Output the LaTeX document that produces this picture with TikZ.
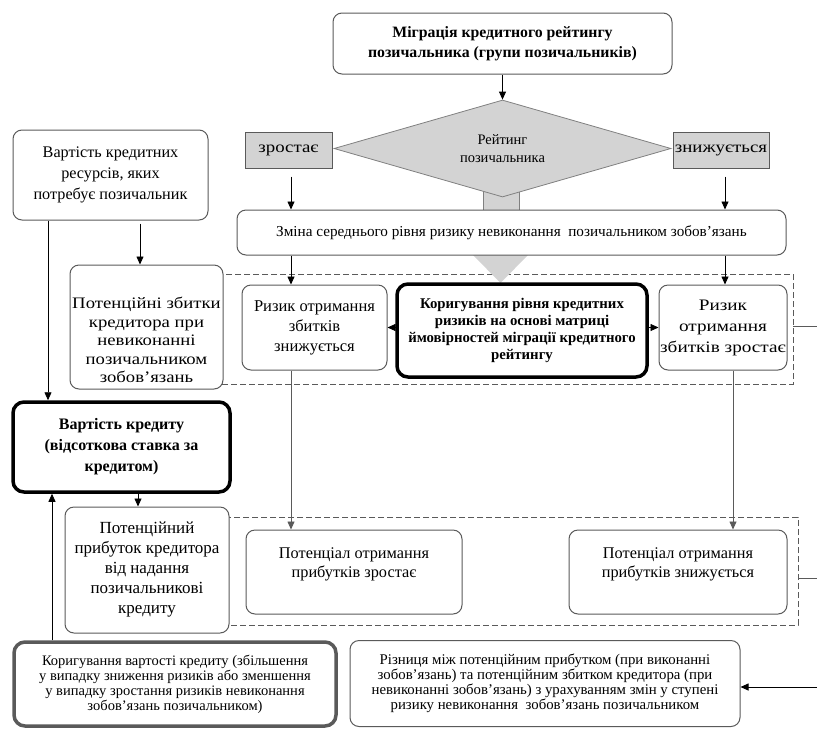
\documentclass[tikz,border=0pt]{standalone}
\usepackage{fontspec}
\setmainfont{Liberation Serif}
\usetikzlibrary{arrows.meta,shapes.geometric,calc}
\definecolor{bord}{HTML}{5A5A5A}
\definecolor{grayfill}{HTML}{D3D3D3}
\definecolor{graybord}{HTML}{808080}
\newcommand{\fsz}[2]{\fontsize{#1}{#2}\selectfont}
\newcommand{\wide}[1]{\addfontfeature{FakeStretch=#1}}
\begin{document}
\begin{tikzpicture}[x=1pt,y=-1pt,
  box/.style={draw=bord, line width=1pt, rounded corners=9pt, fill=white, align=center, inner sep=0pt, font=\fsz{16}{20}},
  thickbox/.style={box, draw=black, line width=3.5pt, rounded corners=11pt},
  graybox/.style={draw=bord, line width=1pt, fill=grayfill, align=center, inner sep=0pt, font=\fsz{16}{20}},
  txt/.style={align=center, inner sep=0pt},
  arr/.style={-{Triangle[length=8pt,width=7pt]}, line width=0.8pt, draw=black},
  garr/.style={arr, draw=bord},
  dashbox/.style={draw=bord, dash pattern=on 6pt off 3pt, line width=0.8pt, inner sep=0pt},
  freeline/.style={draw=bord, line width=0.8pt}
]
\useasboundingbox (0,0) rectangle (817,729);

% dashed groups
\node[dashbox, minimum width=643pt, minimum height=110pt] (dr1) at (471.5,329) {};
\node[dashbox, minimum width=648pt, minimum height=108pt] (dr2) at (474,571) {};

% gray block arrow through the middle
\fill[grayfill] (483,185) rectangle (519,211);
\draw[graybord, line width=0.8pt] (483,190) -- (483,210) (519,190) -- (519,210);
\node[shape=diamond, draw=graybord, line width=0.8pt, fill=grayfill, minimum width=337pt, minimum height=97pt, inner sep=0pt, aspect=3.5, font=\fsz{14.5}{18}, align=center] (dia) at (502.5,148.5) {Рейтинг\\позичальника};
\fill[grayfill] (473,255) -- (528,255) -- (500.5,283) -- cycle;

% boxes
\node[box, font=\bfseries\fsz{15.8}{20}, minimum width=339pt, minimum height=61pt] (top) at (502.5,43.5) {Міграція кредитного рейтингу\\позичальника (групи позичальників)};
\node[graybox, font=\fsz{16}{20}\wide{1.18}, minimum width=87pt, minimum height=36pt] (up) at (288.5,150) {зростає};
\node[graybox, font=\fsz{16}{20}\wide{1.18}, minimum width=96pt, minimum height=36pt] (down) at (721,150) {знижується};
\node[box, font=\fsz{15.2}{20}, minimum width=549pt, minimum height=45pt] (zmina) at (511.5,232.5) {Зміна середнього рівня ризику невиконання \ позичальником зобов'язань};
\node[box, font=\fsz{16.2}{21}, minimum width=195pt, minimum height=90pt] (vr) at (110.5,175) {Вартість кредитних\\ресурсів, яких\\потребує позичальник};
\node[box, minimum width=153pt, minimum height=124pt] (pzb) at (146.5,327) {};
\node[txt, font=\fsz{16}{18.5}\wide{1.17}] (pzbt) at (146.5,340) {Потенційні збитки\\кредитора при\\невиконанні\\позичальником\\зобов'язань};
\node[box, font=\fsz{16.5}{20}, minimum width=145pt, minimum height=85pt] (rz1) at (314.5,327.5) {Ризик отримання\\збитків\\знижується};
\node[thickbox, font=\bfseries\fsz{14.8}{16.8}, minimum width=250pt, minimum height=93pt] (kor) at (522,330.5) {Коригування рівня кредитних\\ризиків на основі матриці\\ймовірностей міграції кредитного\\рейтингу};
\node[box, font=\fsz{16}{21}\wide{1.2}, minimum width=128pt, minimum height=85pt] (rz2) at (723,327.5) {Ризик\\отримання\\збитків зростає};
\node[thickbox, font=\bfseries\fsz{16}{21}, minimum width=217pt, minimum height=90pt] (vk) at (121.5,447) {Вартість кредиту\\(відсоткова ставка за\\кредитом)};
\node[box, font=\fsz{17}{20}, minimum width=164pt, minimum height=126pt] (pp) at (147,570) {Потенційний\\прибуток кредитора\\від надання\\позичальникові\\кредиту};
\node[box, font=\fsz{16.3}{19}, minimum width=216pt, minimum height=84pt] (pz1) at (354,572) {Потенціал отримання\\прибутків зростає\\ };
\node[box, font=\fsz{16.3}{19}, minimum width=218pt, minimum height=84pt] (pz2) at (678,572) {Потенціал отримання\\прибутків знижується\\ };
\node[thickbox, draw=bord, font=\fsz{14.5}{15}, minimum width=322pt, minimum height=84pt] (kv) at (175,684) {Коригування вартості кредиту (збільшення\\у випадку зниження ризиків або зменшення\\у випадку зростання ризиків невиконання\\зобов’язань позичальником)};
\node[box, font=\fsz{14.8}{15}, minimum width=390pt, minimum height=86pt] (diff) at (545,683.5) {Різниця між потенційним прибутком (при виконанні\\зобов’язань) та потенційним збитком кредитора (при\\невиконанні зобов’язань) з урахуванням змін у ступені\\ризику невиконання \ зобов’язань позичальником};

% column coordinates and free ends
\coordinate (cL) at (291,0);
\coordinate (cR) at (725,0);
\coordinate (cR2) at (733,0);
\coordinate (cA) at (140,0);
\coordinate (cB) at (48,0);
\coordinate (cC) at (138,0);
\coordinate (cD) at (52,0);
\coordinate (e1) at (817,326);
\coordinate (e2) at (817,578);
\coordinate (e3) at (817,687);

% connectors
\draw[arr] (top.south) -- (dia.north);
\draw[arr] ($(up.south -| cL)+(0,8)$) -- (zmina.north -| cL);
\draw[arr] ($(down.south -| cR)+(0,8)$) -- (zmina.north -| cR);
\draw[arr] (zmina.south -| cL) -- (rz1.north -| cL);
\draw[arr] (zmina.south -| cR) -- (rz2.north -| cR);
\draw[arr] (kor.west |- rz1.east) -- (rz1.east);
\draw[arr] (kor.east |- rz2.west) -- (rz2.west);
\draw[garr] (rz1.south -| cL) -- (pz1.north -| cL);
\draw[garr] (rz2.south -| cR2) -- (pz2.north -| cR2);
\draw[arr] ($(vr.south -| cA)+(0,3)$) -- (pzb.north -| cA);
\draw[arr] (vr.south -| cB) -- (vk.north -| cB);
\draw[arr] (vk.south -| cC) -- (pp.north -| cC);
\draw[arr] (kv.north -| cD) -- (vk.south -| cD);
\draw[freeline] (dr1.east |- e1) -- (e1);
\draw[freeline] (dr2.east |- e2) -- (e2);
\draw[arr] (e3) -- (diff.east |- e3);
\end{tikzpicture}
\end{document}
